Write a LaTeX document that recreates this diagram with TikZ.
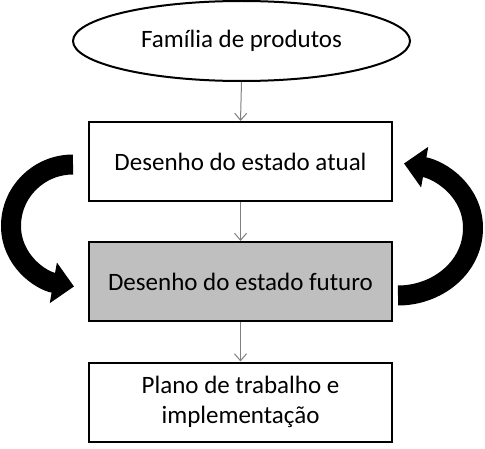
\documentclass[tikz,border=0pt]{standalone}
\usepackage{fontspec}
\setmainfont{Carlito}
\usetikzlibrary{shapes.geometric,arrows.meta}
\definecolor{boxgray}{HTML}{BFBFBF}
\definecolor{linkgray}{HTML}{7F7F7F}
\begin{document}
\begin{tikzpicture}[x=1pt,y=1pt,
  every node/.style={font=\fontsize{25}{30}\selectfont},
  stagebox/.style={draw=black,line width=2pt,minimum width=303pt,minimum height=79pt,align=center,inner sep=0pt},
  famellipse/.style={draw=black,line width=2pt,ellipse,minimum width=337pt,minimum height=80pt,inner sep=0pt},
  link/.style={draw=linkgray,line width=1pt,-{Straight Barb[length=7pt,width=12pt]}},
  bigarrow/.style={draw=black,line width=20pt,-{Triangle[length=21pt,width=40pt]}}]
\useasboundingbox (0,0) rectangle (485,448);
\node[famellipse] (fam) at (241.5,407) {Família de produtos};
\node[stagebox] (atual) at (240.5,286.5) {Desenho do estado atual};
\node[stagebox,fill=boxgray] (futuro) at (240.5,166.5) {Desenho do estado futuro};
\node[stagebox] (plano) at (240.5,46) {Plano de trabalho e\\implementação};
\draw[link] (fam.south) -- (atual.north);
\draw[link] (atual.south) -- (futuro.north);
\draw[link] (futuro.south) -- (plano.north);
\coordinate (lt) at ([xshift=-15pt,yshift=-3pt]atual.west);
\coordinate (lm) at (11,222);
\coordinate (lh) at ([xshift=-14pt,yshift=-5pt]futuro.west);
\draw[bigarrow] (lt) to[out=180,in=90] (lm) to[out=-90,in=170] (lh);
\coordinate (rt) at ([xshift=5pt,yshift=-14pt]futuro.east);
\coordinate (rm) at (473,220);
\coordinate (rh) at ([xshift=11pt,yshift=-2pt]atual.east);
\draw[bigarrow] (rt) to[out=0,in=-90] (rm) to[out=90,in=-10] (rh);
\end{tikzpicture}
\end{document}
